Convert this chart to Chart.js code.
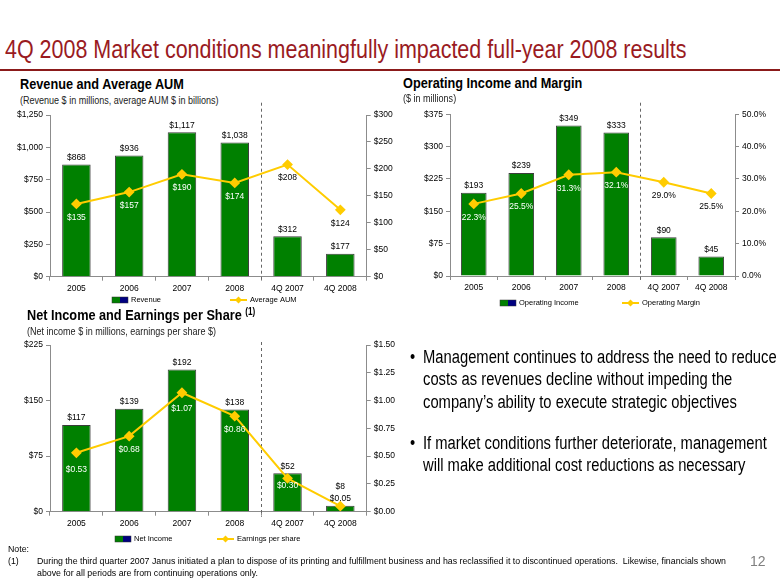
<!DOCTYPE html>
<html>
<head>
<meta charset="utf-8">
<script src="https://cdn.jsdelivr.net/npm/chart.js@4.4.1/dist/chart.umd.min.js"></script>
<style>
  body { margin: 0; width: 780px; height: 585px; position: relative; overflow: hidden; background: #fff;
         font-family: "Liberation Sans", Arial, sans-serif; color: #000; }
  .t { position: absolute; white-space: nowrap; }
  /* narrow look (Arial Narrow is not installed) */
  .nar { transform: scaleX(0.82); transform-origin: 0 0; }
  #title { left: 5px; top: 34px; font-size: 26.2px; line-height: 30px; color: #9a1b1f; }
  #rule { position: absolute; left: 0; top: 69px; width: 780px; height: 2px; background: #8b1a1a; }
  .h { font-weight: bold; font-size: 15.5px; line-height: 18px; }
  .h sup { font-size: 10px; font-weight: bold; vertical-align: 5px; line-height: 0; }
  .sub { font-size: 11px; line-height: 13px; color: #222; }
  .bul { font-size: 18px; line-height: 22.3px; }
  .bul .dot { position: absolute; left: -16px; }
  .note { font-size: 8.8px; line-height: 12px; }
  canvas { position: absolute; }
</style>
</head>
<body>
<div class="t nar" id="title">4Q 2008 Market conditions meaningfully impacted full-year 2008 results</div>
<div id="rule"></div>

<div class="t h nar" style="left:20px;top:75px">Revenue and Average AUM</div>
<div class="t sub nar" style="left:20px;top:93.5px">(Revenue $ in millions, average AUM $ in billions)</div>
<canvas id="revChart" width="410" height="210" style="left:0;top:100px"></canvas>

<div class="t h nar" style="left:403px;top:74px">Operating Income and Margin</div>
<div class="t sub nar" style="left:403px;top:91.5px">($ in millions)</div>
<canvas id="opChart" width="380" height="210" style="left:400px;top:100px"></canvas>

<div class="t h nar" style="left:27px;top:306px">Net Income and Earnings per Share <sup>(1)</sup></div>
<div class="t sub nar" style="left:27px;top:325px">(Net income $ in millions, earnings per share $)</div>
<canvas id="niChart" width="410" height="215" style="left:0;top:335px"></canvas>

<div class="t bul nar" style="left:423px;top:346px"><span class="dot">•</span>Management continues to address the need to reduce<br>costs as revenues decline without impeding the<br>company’s ability to execute strategic objectives</div>
<div class="t bul nar" style="left:423px;top:432px"><span class="dot">•</span>If market conditions further deteriorate, management<br>will make additional cost reductions as necessary</div>

<div class="t note" style="left:8px;top:543px">Note:</div>
<div class="t note" style="left:8px;top:555px">(1)</div>
<div class="t note" style="left:37px;top:555px">During the third quarter 2007 Janus initiated a plan to dispose of its printing and fulfillment business and has reclassified it to discontinued operations.&nbsp; Likewise, financials shown<br>above for all periods are from continuing operations only.</div>
<div class="t" style="left:750px;top:553px;font-size:14px;color:#808080">12</div>

<script>
var categories = ['2005', '2006', '2007', '2008', '4Q 2007', '4Q 2008'];

var revenue = [868, 936, 1117, 1038, 312, 177];
var avgAum = [135, 157, 190, 174, 208, 124];
var revenueAxis = [0, 1250, 250];
var aumAxis = [0, 300, 50];

var opIncome = [193, 239, 349, 333, 90, 45];
var opMargin = [22.3, 25.5, 31.3, 32.1, 29.0, 25.5];
var opIncomeAxis = [0, 375, 75];
var marginAxis = [0, 50, 10];

var netIncome = [117, 139, 192, 138, 52, 8];
var eps = [0.53, 0.68, 1.07, 0.86, 0.30, 0.05];
var netIncomeAxis = [0, 225, 75];
var epsAxis = [0, 1.5, 0.25];

var GREEN = '#008000', NAVY = '#000080', GOLD = '#FFCC00', AXIS = '#8c8c8c';
var FONT = '"Liberation Sans", Arial, sans-serif';

function isQuarter(i) { return categories[i].indexOf('Q') === 0; }
function dollars(v) { return '$' + v.toLocaleString('en-US'); }
function dollars2(v) { return '$' + v.toFixed(2); }
function pct(v) { return v.toFixed(1) + '%'; }

// labels, divider and legend drawn on top of the chart
function decor(cfg) {
  return {
    id: 'decor',
    beforeDatasetsDraw: function(chart) {
      var ctx = chart.ctx, a = chart.chartArea, xs = chart.scales.x;
      var x = Math.round((xs.getPixelForValue(3) + xs.getPixelForValue(4)) / 2) + 0.5;
      ctx.save();
      ctx.strokeStyle = '#666';
      ctx.lineWidth = 1;
      ctx.setLineDash([3, 3]);
      ctx.beginPath();
      ctx.moveTo(x, a.top + cfg.divTop);
      ctx.lineTo(x, a.bottom + cfg.divBottom);
      ctx.stroke();
      ctx.restore();
    },
    afterDatasetsDraw: function(chart) {
      var ctx = chart.ctx;
      var bars = chart.getDatasetMeta(0).data;
      var pts = chart.getDatasetMeta(1).data;
      ctx.save();
      ctx.font = '8.5px ' + FONT;
      ctx.textAlign = 'center';
      ctx.textBaseline = 'middle';
      bars.forEach(function(bar, i) {
        ctx.fillStyle = '#000';
        ctx.fillText(cfg.barFmt(chart.data.datasets[0].data[i]), bar.x, bar.y + (cfg.barOffsets ? cfg.barOffsets[i] : -7));
      });
      pts.forEach(function(pt, i) {
        var y = pt.y + (cfg.offsets ? cfg.offsets[i] : 13.5);
        ctx.fillStyle = y > bars[i].y + 4 ? '#fff' : '#000';
        ctx.fillText(cfg.lineFmt(chart.data.datasets[1].data[i]), pt.x, y);
      });
      ctx.restore();
    },
    afterDraw: function(chart) {
      var ctx = chart.ctx, a = chart.chartArea, y = a.bottom + cfg.legendY;
      var x = a.left + cfg.legendX[0];
      ctx.save();
      ctx.fillStyle = GREEN;
      ctx.fillRect(x, y - 3, 8, 6);
      ctx.fillStyle = NAVY;
      ctx.fillRect(x + 8, y - 3, 8, 6);
      ctx.strokeStyle = '#333';
      ctx.lineWidth = 0.5;
      ctx.strokeRect(x, y - 3, 16, 6);
      ctx.font = '7.5px ' + FONT;
      ctx.fillStyle = '#000';
      ctx.textAlign = 'left';
      ctx.textBaseline = 'middle';
      ctx.fillText(cfg.barLabel, x + 19, y);
      x = a.left + cfg.legendX[1];
      ctx.strokeStyle = GOLD;
      ctx.lineWidth = 2;
      ctx.beginPath();
      ctx.moveTo(x, y);
      ctx.lineTo(x + 17, y);
      ctx.stroke();
      ctx.fillStyle = GOLD;
      ctx.beginPath();
      ctx.moveTo(x + 8.5, y - 3.5);
      ctx.lineTo(x + 12, y);
      ctx.lineTo(x + 8.5, y + 3.5);
      ctx.lineTo(x + 5, y);
      ctx.closePath();
      ctx.fill();
      ctx.fillStyle = '#000';
      ctx.fillText(cfg.lineLabel, x + 20, y);
      ctx.restore();
    }
  };
}

function axisGrid() {
  return { display: true, drawOnChartArea: false, drawTicks: true, tickLength: 4, color: AXIS };
}

function comboChart(id, bars, line, cfg) {
  return new Chart(document.getElementById(id).getContext('2d'), {
    data: {
      labels: categories,
      datasets: [{
        type: 'bar',
        label: cfg.barLabel,
        data: bars,
        yAxisID: 'y',
        backgroundColor: function(c) { return isQuarter(c.dataIndex) ? NAVY : GREEN; },
        borderColor: '#3c3c3c',
        borderWidth: 1,
        barPercentage: 0.54,
        categoryPercentage: 1,
        order: 2
      }, {
        type: 'line',
        label: cfg.lineLabel,
        data: line,
        yAxisID: 'y1',
        borderColor: GOLD,
        backgroundColor: GOLD,
        borderWidth: 2,
        pointStyle: 'rectRot',
        pointRadius: 4,
        pointBackgroundColor: GOLD,
        pointBorderColor: GOLD,
        segment: {
          borderColor: function(c) {
            return isQuarter(c.p0DataIndex) !== isQuarter(c.p1DataIndex) ? 'transparent' : GOLD;
          }
        },
        order: 1
      }]
    },
    options: {
      responsive: false,
      animation: false,
      devicePixelRatio: 1,
      layout: { padding: { top: cfg.padTop, left: 0, right: 0, bottom: 0 } },
      plugins: { legend: { display: false }, tooltip: { enabled: false } },
      scales: {
        x: {
          grid: Object.assign(axisGrid(), { offset: true }),
          border: { display: true, color: AXIS },
          ticks: { color: '#000', font: { family: FONT, size: 8.5 }, padding: 3, maxRotation: 0 },
          afterFit: function(s) { s.height = cfg.xH; }
        },
        y: {
          position: 'left',
          min: cfg.left[0], max: cfg.left[1],
          grid: axisGrid(),
          border: { display: true, color: AXIS },
          ticks: { stepSize: cfg.left[2], color: '#000', font: { family: FONT, size: 8.5 }, padding: 3,
                   callback: function(v) { return cfg.leftFmt(v); } },
          afterFit: function(s) { s.width = cfg.leftW; }
        },
        y1: {
          position: 'right',
          min: cfg.right[0], max: cfg.right[1],
          grid: axisGrid(),
          border: { display: true, color: AXIS },
          ticks: { stepSize: cfg.right[2], color: '#000', font: { family: FONT, size: 8.5 }, padding: 3,
                   callback: function(v) { return cfg.rightFmt(v); } },
          afterFit: function(s) { s.width = cfg.rightW; }
        }
      }
    },
    plugins: [decor(cfg)]
  });
}

comboChart('revChart', revenue, avgAum, {
  barLabel: 'Revenue', lineLabel: 'Average AUM',
  barFmt: dollars, lineFmt: dollars,
  left: revenueAxis, right: aumAxis, leftFmt: dollars, rightFmt: dollars,
  leftW: 50, rightW: 43.3, padTop: 15, xH: 33.3,
  legendY: 23.3, legendX: [62, 180], divTop: -12.3, divBottom: 6
});

comboChart('opChart', opIncome, opMargin, {
  barLabel: 'Operating Income', lineLabel: 'Operating Margin',
  barFmt: dollars, lineFmt: pct,
  left: opIncomeAxis, right: marginAxis, leftFmt: dollars, rightFmt: pct,
  leftW: 50, rightW: 45, padTop: 14.3, xH: 34,
  legendY: 27, legendX: [50, 172], divTop: -11.6, divBottom: 6
});

comboChart('niChart', netIncome, eps, {
  barLabel: 'Net Income', lineLabel: 'Earnings per share',
  barFmt: dollars, lineFmt: dollars2,
  left: netIncomeAxis, right: epsAxis, leftFmt: dollars, rightFmt: dollars2,
  leftW: 50, rightW: 43.3, padTop: 10, xH: 38.3,
  legendY: 27.3, legendX: [65, 167], divTop: -3, divBottom: 5,
  offsets: [17, 14, 16, 14, 7, -7],
  barOffsets: [-7, -7, -7, -7, -7, -19]
});
</script>
</body>
</html>
